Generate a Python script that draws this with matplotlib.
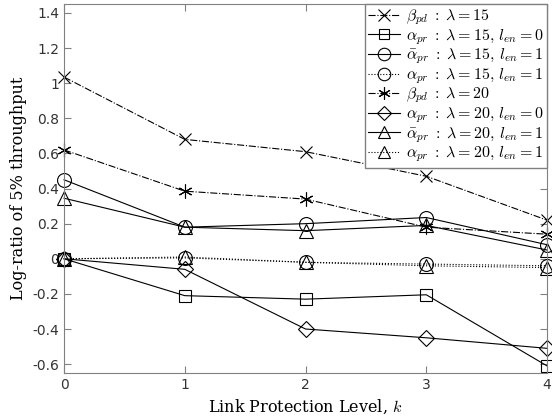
import matplotlib
matplotlib.use("Agg")
import matplotlib.pyplot as plt

plt.rcParams['mathtext.fontset'] = 'cm'

k = [0, 1, 2, 3, 4]
beta15 = [1.035, 0.68, 0.61, 0.47, 0.22]
alpha15_l0 = [0.0, -0.21, -0.23, -0.205, -0.61]
abar15_l1 = [0.45, 0.18, 0.20, 0.235, 0.08]
alpha15_l1 = [0.0, 0.005, -0.02, -0.03, -0.04]
beta20 = [0.62, 0.385, 0.34, 0.18, 0.14]
alpha20_l0 = [0.0, -0.06, -0.40, -0.45, -0.51]
abar20_l1 = [0.345, 0.18, 0.16, 0.19, 0.05]
alpha20_l1 = [0.0, 0.01, -0.02, -0.04, -0.05]

labels = [r'$\beta_{pd}\;:\;\lambda=15$',
          r'$\alpha_{pr}\;:\;\lambda=15,\,l_{en}=0$',
          r'$\bar{\alpha}_{pr}\;:\;\lambda=15,\,l_{en}=1$',
          r'$\alpha_{pr}\;:\;\lambda=15,\,l_{en}=1$',
          r'$\beta_{pd}\;:\;\lambda=20$',
          r'$\alpha_{pr}\;:\;\lambda=20,\,l_{en}=0$',
          r'$\bar{\alpha}_{pr}\;:\;\lambda=20,\,l_{en}=1$',
          r'$\alpha_{pr}\;:\;\lambda=20,\,l_{en}=1$']

fig = plt.figure(figsize=(5.52, 4.19), dpi=100)
ax = fig.add_axes([0.116, 0.110, 0.875, 0.880])

series = [
    (beta15, 'x', '-.', 9),
    (alpha15_l0, 's', '-', 8),
    (abar15_l1, 'o', '-', 10),
    (alpha15_l1, 'o', ':', 10),
    (beta20, (6, 2, 0), '-.', 10),
    (alpha20_l0, 'D', '-', 8),
    (abar20_l1, '^', '-', 10),
    (alpha20_l1, '^', ':', 10),
]
for (y, m, ls, ms), lab in zip(series, labels):
    ax.plot(k, y, linestyle=ls, marker=m, color='black', lw=0.8,
            markersize=ms, markerfacecolor='none', markeredgecolor='black',
            markeredgewidth=0.8, label=lab, clip_on=False)

ax.set_xlim(0, 4)
ax.set_ylim(-0.65, 1.45)
ax.set_xticks([0, 1, 2, 3, 4])
ax.set_yticks([-0.6, -0.4, -0.2, 0, 0.2, 0.4, 0.6, 0.8, 1.0, 1.2, 1.4])
ax.set_yticklabels(['-0.6', '-0.4', '-0.2', '0', '0.2', '0.4', '0.6', '0.8', '1', '1.2', '1.4'])
for s in ax.spines.values():
    s.set_color('#808080')
ax.tick_params(direction='in', top=True, right=True, colors='#808080',
               labelcolor='#333333', labelsize=10, length=5)
ax.set_xlabel('Link Protection Level, $k$', family='DejaVu Serif', fontsize=11.5)
ax.set_ylabel('Log-ratio of 5% throughput', family='DejaVu Serif', fontsize=11.5)

leg = ax.legend(loc='upper right', fontsize=11.5, fancybox=False, framealpha=1,
                edgecolor='#808080', handlelength=2.0, borderpad=0.2,
                labelspacing=0.0, handletextpad=0.4, borderaxespad=0.0,
                markerscale=0.9)
leg.get_frame().set_linewidth(1.0)

fig.savefig('out.png', dpi=100)
